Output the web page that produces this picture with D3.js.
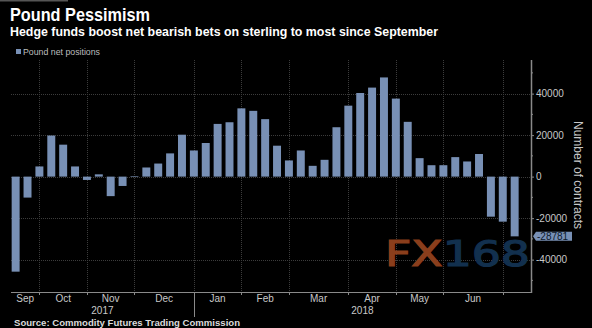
<!DOCTYPE html>
<html><head><meta charset="utf-8">
<script src="https://cdn.jsdelivr.net/npm/d3@7"></script>
<style>html,body{margin:0;padding:0;background:#000;}svg{display:block;}</style>
</head><body>
<svg id="c" width="592" height="328"></svg>
<script>
// ---- data ----
const weeks = [
 "2017-09-22","2017-09-29","2017-10-06","2017-10-13","2017-10-20","2017-10-27",
 "2017-11-03","2017-11-10","2017-11-17","2017-11-24","2017-12-01","2017-12-08",
 "2017-12-15","2017-12-22","2017-12-29","2018-01-05","2018-01-12","2018-01-19",
 "2018-01-26","2018-02-02","2018-02-09","2018-02-16","2018-02-23","2018-03-02",
 "2018-03-09","2018-03-16","2018-03-23","2018-03-30","2018-04-06","2018-04-13",
 "2018-04-20","2018-04-27","2018-05-04","2018-05-11","2018-05-18","2018-05-25",
 "2018-06-01","2018-06-08","2018-06-15","2018-06-22","2018-06-29","2018-07-06",
 "2018-07-13"];
const netPositions = [
 -45800,-10100,4900,19800,15400,4900,
 -1600,1100,-9400,-4500,300,4400,
 6300,11200,20200,12600,16200,25400,
 26200,32900,31700,27700,14900,7800,
 12600,5200,8100,23800,34200,40300,
 42900,47800,37600,26400,8900,5500,
 5500,9400,7300,10900,-19300,-21700,
 -28781];
const monthLabels = ["Sep","Oct","Nov","Dec","Jan","Feb","Mar","Apr","May","Jun"];
const yearLabels = ["2017","2018"];
const yMajorTicks = [-40000,-20000,0,20000,40000];
const yMinorTicks = [-50000,-30000,-10000,10000,30000,50000];

// ---- layout ----
const L = 11, R = 531, T = 60, B = 292;
const barColor = "#7890b5";
const svg = d3.select("#c");
svg.append("rect").attr("width",592).attr("height",328).attr("fill","#000");
svg.append("rect").attr("x",0).attr("y",0).attr("width",68).attr("height",1.5).attr("fill","#555");

const x = d3.scaleBand().domain(weeks).range([9.7, 520.6]).paddingInner(0.33).paddingOuter(0.165);
const y = d3.scaleLinear().domain([-55600, 56200]).range([B, T]);

// month starts (first bar in each month)
const parse = d3.timeParse("%Y-%m-%d");
const monthStarts = weeks.filter((w,i) => i > 0 && parse(w).getMonth() !== parse(weeks[i-1]).getMonth());
const gx = monthStarts.map(w => x(w) + x.bandwidth()/2);

// gridlines
const grid = svg.append("g").attr("stroke","#3c3c3c").attr("stroke-width",1).attr("stroke-dasharray","1,1");
grid.selectAll("line.h").data(yMajorTicks).join("line")
  .attr("x1",L).attr("x2",R).attr("y1",d=>Math.round(y(d))+0.5).attr("y2",d=>Math.round(y(d))+0.5);
grid.selectAll("line.v").data(gx).join("line")
  .attr("x1",d=>Math.round(d)+0.5).attr("x2",d=>Math.round(d)+0.5).attr("y1",T).attr("y2",B);

// watermark
const wm = svg.append("text").attr("x",385).attr("y",266)
  .attr("font-family","'DejaVu Sans', sans-serif").attr("font-weight","normal").attr("font-size",36)
  .attr("stroke-width",1.2)
  .attr("textLength",145).attr("lengthAdjust","spacingAndGlyphs");
wm.append("tspan").attr("fill","#8a3e1c").attr("stroke","#8a3e1c").text("FX");
wm.append("tspan").attr("fill","#12304e").attr("stroke","#12304e").text("168");

// bars
svg.append("g").selectAll("rect").data(weeks).join("rect")
  .attr("x",d=>x(d)).attr("width",x.bandwidth())
  .attr("y",(d,i)=>y(Math.max(0,netPositions[i])))
  .attr("height",(d,i)=>Math.abs(y(netPositions[i])-y(0)))
  .attr("fill",barColor);

// bottom axis
const axc = "#8a8a8a";
svg.append("line").attr("x1",L).attr("x2",R+1).attr("y1",B+0.5).attr("y2",B+0.5).attr("stroke",axc).attr("stroke-width",1.2);
svg.append("g").selectAll("line").data(gx).join("line")
  .attr("x1",d=>Math.round(d)+0.5).attr("x2",d=>Math.round(d)+0.5).attr("y1",B).attr("y2",B+3).attr("stroke",axc);
const yearSep = gx[monthLabels.indexOf("Jan")-1];
svg.append("line").attr("x1",Math.round(yearSep)+0.5).attr("x2",Math.round(yearSep)+0.5)
  .attr("y1",B).attr("y2",317).attr("stroke",axc);

// month labels centered between ticks
const bounds = [L, ...gx];
svg.append("g").selectAll("text").data(monthLabels).join("text")
  .attr("x",(d,i)=>(bounds[i]+bounds[i+1])/2).attr("y",302)
  .attr("text-anchor","middle").attr("fill","#c8c8c8")
  .attr("font-family","'Liberation Sans', Arial, sans-serif").attr("font-size",10).text(d=>d);
const yb = [[L, yearSep],[yearSep, R]];
svg.append("g").selectAll("text").data(yearLabels).join("text")
  .attr("x",(d,i)=>(yb[i][0]+yb[i][1])/2).attr("y",314)
  .attr("text-anchor","middle").attr("fill","#c8c8c8")
  .attr("font-family","'Liberation Sans', Arial, sans-serif").attr("font-size",10).text(d=>d);

// right axis
const ya = svg.append("g").attr("transform",`translate(${R},0)`);
ya.call(d3.axisRight(y).tickValues(yMajorTicks).tickSize(3).tickPadding(2).tickFormat(d=>String(d)));
ya.select(".domain").remove();
ya.selectAll(".tick line").attr("stroke",axc);
ya.selectAll(".tick text").attr("fill","#c8c8c8").attr("font-family","'Liberation Sans', Arial, sans-serif").attr("font-size",10);
ya.append("g").selectAll("line").data(yMinorTicks).join("line")
  .attr("x1",0).attr("x2",2).attr("y1",d=>y(d)).attr("y2",d=>y(d)).attr("stroke",axc);
svg.append("line").attr("x1",R+0.5).attr("x2",R+0.5).attr("y1",T).attr("y2",B+1).attr("stroke",axc).attr("stroke-width",1.5);

// axis title
svg.append("text").attr("transform","translate(574,175) rotate(90)")
  .attr("text-anchor","middle").attr("fill","#c8c8c8")
  .attr("font-family","'Liberation Sans', Arial, sans-serif").attr("font-size",12).text("Number of contracts");

// last value label
const lastV = netPositions[netPositions.length-1];
const ly = y(lastV);
svg.append("path").attr("d",`M533,${ly} L536,${ly-4.5} L572,${ly-4.5} L572,${ly+4.5} L536,${ly+4.5} Z`).attr("fill",barColor);
svg.append("text").attr("x",537).attr("y",ly+3.5).attr("fill","#0d1a2c")
  .attr("font-family","'Liberation Sans', Arial, sans-serif").attr("font-size",10).text(String(lastV));

// titles
svg.append("text").attr("x",10).attr("y",21).attr("fill","#fff")
  .attr("font-family","'Liberation Sans', Arial, sans-serif").attr("font-weight","bold").attr("font-size",17.5)
  .attr("textLength",140).attr("lengthAdjust","spacingAndGlyphs").text("Pound Pessimism");
svg.append("text").attr("x",10).attr("y",36).attr("fill","#fff")
  .attr("font-family","'Liberation Sans', Arial, sans-serif").attr("font-weight","bold").attr("font-size",13.5)
  .attr("textLength",428).attr("lengthAdjust","spacingAndGlyphs").text("Hedge funds boost net bearish bets on sterling to most since September");

// legend
svg.append("rect").attr("x",16).attr("y",49).attr("width",5).attr("height",5).attr("fill",barColor);
svg.append("text").attr("x",23).attr("y",54.5).attr("fill","#bdbdbd")
  .attr("font-family","'Liberation Sans', Arial, sans-serif").attr("font-size",9)
  .attr("textLength",77).attr("lengthAdjust","spacingAndGlyphs").text("Pound net positions");

// source
svg.append("text").attr("x",14).attr("y",326).attr("fill","#dcdcdc")
  .attr("font-family","'Liberation Sans', Arial, sans-serif").attr("font-weight","bold").attr("font-size",9)
  .attr("textLength",226).attr("lengthAdjust","spacingAndGlyphs").text("Source: Commodity Futures Trading Commission");
</script>
</body></html>
